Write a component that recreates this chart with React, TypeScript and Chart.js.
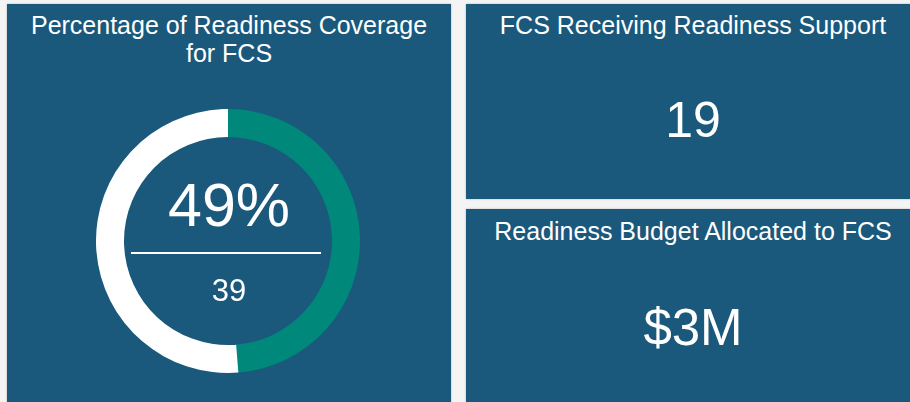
import React, { useEffect, useRef } from "react";
import { Chart, registerables } from "chart.js";

Chart.register(...registerables);

// ---- data ----
const donutTitle = ["Percentage of Readiness Coverage", "for FCS"];
const segmentLabels = ["FCS with readiness coverage", "FCS without readiness coverage"];
const segmentValues = [39, 41];
const segmentColors = ["#00897B", "#FFFFFF"];
const kpiTitles = ["FCS Receiving Readiness Support", "Readiness Budget Allocated to FCS"];
const kpiValues = ["19", "$3M"];

const PANEL = "#1A587C";
const FONT = "'Liberation Sans', Arial, Helvetica, sans-serif";

export default function App() {
  const canvasRef = useRef<HTMLCanvasElement>(null);

  useEffect(() => {
    const chart = new Chart(canvasRef.current!, {
      type: "doughnut",
      data: {
        labels: segmentLabels,
        datasets: [
          {
            data: segmentValues,
            backgroundColor: segmentColors,
            borderWidth: 0,
            hoverOffset: 0,
          },
        ],
      },
      options: {
        responsive: true,
        maintainAspectRatio: false,
        animation: false,
        cutout: "78.8%",
        layout: { padding: 0 },
        events: [],
        plugins: {
          legend: { display: false },
          tooltip: { enabled: false },
          title: { display: false },
        },
      },
    });
    return () => chart.destroy();
  }, []);

  const total = segmentValues.reduce((a, b) => a + b, 0);
  const pct = Math.round((segmentValues[0] / total) * 100) + "%";

  const abs = (s: React.CSSProperties): React.CSSProperties => ({ position: "absolute", ...s });
  const titleStyle: React.CSSProperties = {
    color: "#FFFFFF",
    fontSize: 25,
    lineHeight: "28px",
    textAlign: "center",
    whiteSpace: "nowrap",
  };

  return (
    <div
      style={{
        position: "fixed",
        left: 0,
        top: 0,
        width: 910,
        height: 402,
        overflow: "hidden",
        background: "#F4F4F4",
        fontFamily: FONT,
      }}
    >
      {/* left panel */}
      <div style={abs({ left: 7, top: 4, width: 444, height: 420, background: PANEL, boxShadow: "0 0 2px rgba(0,0,0,0.25)" })} />
      <div style={abs({ left: 7, top: 10.5, width: 444, ...titleStyle })}>
        {donutTitle.map((t, i) => (
          <div key={i}>{t}</div>
        ))}
      </div>
      <div style={abs({ left: 96, top: 109, width: 264, height: 264 })}>
        <canvas ref={canvasRef} />
      </div>
      <div style={abs({ left: 129, top: 174.5, width: 200, textAlign: "center", color: "#FFFFFF", fontSize: 61, lineHeight: "61px" })}>
        {pct}
      </div>
      <div style={abs({ left: 131, top: 252, width: 190, height: 2, background: "#FFFFFF" })} />
      <div style={abs({ left: 129, top: 274.5, width: 200, textAlign: "center", color: "#FFFFFF", fontSize: 31, lineHeight: "31px" })}>
        {segmentValues[0]}
      </div>

      {/* right top panel */}
      <div style={abs({ left: 466, top: 4, width: 454, height: 195, background: PANEL, boxShadow: "0 0 2px rgba(0,0,0,0.25)" })} />
      <div style={abs({ left: 466, top: 10.5, width: 454, ...titleStyle })}>{kpiTitles[0]}</div>
      <div style={abs({ left: 466, top: 95, width: 454, textAlign: "center", color: "#FFFFFF", fontSize: 50, lineHeight: "50px" })}>
        {kpiValues[0]}
      </div>

      {/* right bottom panel */}
      <div style={abs({ left: 466, top: 209, width: 454, height: 220, background: PANEL, boxShadow: "0 0 2px rgba(0,0,0,0.25)" })} />
      <div style={abs({ left: 466, top: 217, width: 454, ...titleStyle })}>{kpiTitles[1]}</div>
      <div style={abs({ left: 466, top: 301.5, width: 454, textAlign: "center", color: "#FFFFFF", fontSize: 51, lineHeight: "51px" })}>
        {kpiValues[1]}
      </div>
    </div>
  );
}
